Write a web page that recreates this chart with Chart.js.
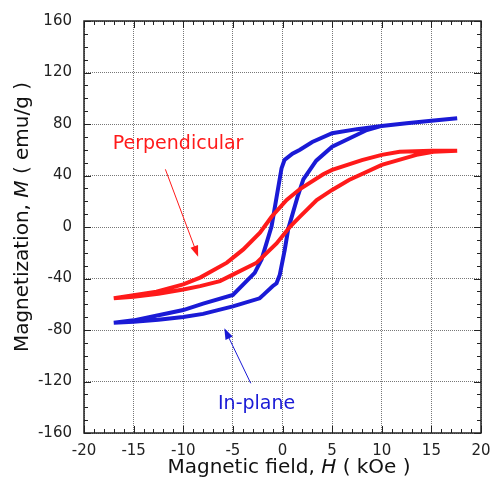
<!DOCTYPE html>
<html lang="en">
<head>
<meta charset="UTF-8">
<title>M-H loops</title>
<script src="https://cdn.jsdelivr.net/npm/chart.js"></script>
<style>
    body { margin: 0; background: #fff; }
    #wrap { width: 493px; height: 491px; }
</style>
</head>
<body>
<div id="wrap"><canvas id="myChart"></canvas></div>
<script>
// tick values
const fieldTicks = [-20, -15, -10, -5, 0, 5, 10, 15, 20];
const magTicks = [-160, -120, -80, -40, 0, 40, 80, 120, 160];

// in-plane loop (blue): down the upper branch, back up the lower one
const blueH = [17.6, 15, 12.5, 10, 7.5, 5, 3, 1.76, 1, 0.2, -0.1, -1.1, -2.1, -2.8, -5, -8, -10, -12.5, -15, -17,
               -15, -12.5, -10, -8, -5, -2.3, -1.9, -1, -0.6, -0.27, 0.23, 0.57, 1.5, 2.1, 3.4, 5, 8.5, 10, 12.5, 15, 17.6];
const blueM = [84.4, 82.5, 80.5, 78.5, 76, 72.8, 66, 60, 57, 52, 45.5, 0.6, -25, -35.6, -52.8, -59.5, -64.5, -68.5, -72.5, -74.3,
               -73.5, -72, -69.9, -67.5, -61.7, -55.4, -52.5, -46, -43.7, -37, -17.6, -1.8, 23, 37, 51.5, 62.4, 75.3, 78.5, 80.5, 82.5, 84.4];

// perpendicular loop (red)
const redH = [17.6, 15, 11.8, 10, 8, 5, 4.1, 1.76, 0.42, -1.1, -2.27, -3.95, -5.6, -8.3, -10, -12.7, -15, -17,
              -15, -12.5, -10, -8.3, -6.3, -4.95, -2.6, -0.6, 0.75, 1.76, 3.45, 5, 6.7, 10, 13.5, 15.2, 17.6];
const redM = [59.3, 59.2, 58.5, 56, 52, 44.3, 41, 29.5, 21, 8, -4.4, -17.4, -27.7, -39.3, -44.6, -50.2, -53, -55.4,
              -54.2, -51.8, -48.5, -45.9, -42, -36.8, -27.7, -12.8, 0.2, 8, 21, 28.8, 36.5, 48.2, 56, 58.5, 59.3];

function pts(h, m) { return h.map((v, i) => ({ x: v, y: m[i] })); }

// frame with inward ticks on all four sides
const framePlugin = {
    id: 'frame',
    afterDraw(chart) {
        const { ctx, chartArea: a, scales: { x, y } } = chart;
        ctx.save();
        ctx.strokeStyle = '#222';
        ctx.lineWidth = 1;
        ctx.beginPath();
        for (let v = -20; v <= 20; v += 1) {
            const px = Math.round(x.getPixelForValue(v)) + 0.5;
            const len = v % 5 === 0 ? 7 : 4;
            ctx.moveTo(px, a.bottom); ctx.lineTo(px, a.bottom - len);
            ctx.moveTo(px, a.top); ctx.lineTo(px, a.top + len);
        }
        for (let v = -160; v <= 160; v += 10) {
            const py = Math.round(y.getPixelForValue(v)) + 0.5;
            const len = v % 40 === 0 ? 7 : 4;
            ctx.moveTo(a.left, py); ctx.lineTo(a.left + len, py);
            ctx.moveTo(a.right, py); ctx.lineTo(a.right - len, py);
        }
        ctx.stroke();
        ctx.lineWidth = 1.5;
        ctx.strokeRect(a.left, a.top, a.right - a.left, a.bottom - a.top);

        // axis titles with italic symbol
        const drawMixed = (parts, cx, cy) => {
            let w = 0;
            parts.forEach(p => { ctx.font = p[1]; w += ctx.measureText(p[0]).width; });
            let sx = cx - w / 2;
            ctx.textBaseline = 'middle';
            ctx.textAlign = 'left';
            parts.forEach(p => { ctx.font = p[1]; ctx.fillText(p[0], sx, cy); sx += ctx.measureText(p[0]).width; });
        };
        const f = '20px "DejaVu Sans"', fi = 'italic 20px "DejaVu Sans"';
        ctx.fillStyle = '#111';
        drawMixed([['Magnetic field, ', f], ['H', fi], [' ( kOe )', f]], 289, 468);
        ctx.translate(23, 217);
        ctx.rotate(-Math.PI / 2);
        drawMixed([['Magnetization, ', f], ['M', fi], [' ( emu/g )', f]], 0, 0);
        ctx.restore();
    }
};

// labels and arrows
const notes = [
    { text: 'Perpendicular', color: '#ff1a1a', at: [-17.1, 60.6], from: [-11.8, 44.8], to: [-8.5, -23.1] },
    { text: 'In-plane', color: '#1a1ad6', at: [-6.5, -141.4], from: [-3.2, -121.4], to: [-5.86, -78.7] }
];

const notesPlugin = {
    id: 'notes',
    afterDatasetsDraw(chart) {
        const { ctx, scales: { x, y } } = chart;
        ctx.save();
        notes.forEach(n => {
            ctx.fillStyle = n.color;
            ctx.strokeStyle = n.color;
            ctx.font = '19px "DejaVu Sans"';
            ctx.textBaseline = 'alphabetic';
            ctx.fillText(n.text, x.getPixelForValue(n.at[0]), y.getPixelForValue(n.at[1]));
            const x0 = x.getPixelForValue(n.from[0]), y0 = y.getPixelForValue(n.from[1]);
            const x1 = x.getPixelForValue(n.to[0]), y1 = y.getPixelForValue(n.to[1]);
            const ang = Math.atan2(y1 - y0, x1 - x0);
            ctx.lineWidth = 1;
            ctx.beginPath();
            ctx.moveTo(x0, y0);
            ctx.lineTo(x1 - 8 * Math.cos(ang), y1 - 8 * Math.sin(ang));
            ctx.stroke();
            ctx.beginPath();
            ctx.moveTo(x1, y1);
            ctx.lineTo(x1 - 11 * Math.cos(ang) + 4 * Math.sin(ang), y1 - 11 * Math.sin(ang) - 4 * Math.cos(ang));
            ctx.lineTo(x1 - 11 * Math.cos(ang) - 4 * Math.sin(ang), y1 - 11 * Math.sin(ang) + 4 * Math.cos(ang));
            ctx.closePath();
            ctx.fill();
        });
        ctx.restore();
    }
};

const ctx = document.getElementById('myChart').getContext('2d');
const myChart = new Chart(ctx, {
    type: 'scatter',
    data: {
        datasets: [{
            label: 'Perpendicular',
            data: pts(redH, redM),
            showLine: true,
            borderColor: '#ff1a1a',
            borderWidth: 4,
            pointRadius: 0,
            tension: 0
        }, {
            label: 'In-plane',
            data: pts(blueH, blueM),
            showLine: true,
            borderColor: '#1a1ad6',
            borderWidth: 4,
            pointRadius: 0,
            tension: 0
        }]
    },
    options: {
        responsive: true,
        maintainAspectRatio: false,
        animation: false,
        layout: { padding: { top: 21, right: 0, left: 0, bottom: 0 } },
        plugins: { legend: { display: false }, tooltip: { enabled: false } },
        scales: {
            x: {
                type: 'linear',
                min: -20, max: 20,
                afterBuildTicks: s => { s.ticks = fieldTicks.map(v => ({ value: v })); },
                afterFit: s => { s.height = 58; s.paddingRight = 12; },
                grid: { color: '#777', lineWidth: 1, drawTicks: false },
                border: { display: false, dash: [1, 1] },
                ticks: { color: '#222', padding: 9, font: { family: 'DejaVu Sans', size: 15 } }
            },
            y: {
                type: 'linear',
                min: -160, max: 160,
                afterBuildTicks: s => { s.ticks = magTicks.map(v => ({ value: v })); },
                afterFit: s => { s.width = 84; },
                grid: { color: '#777', lineWidth: 1, drawTicks: false },
                border: { display: false, dash: [1, 1] },
                ticks: { color: '#222', padding: 12, font: { family: 'DejaVu Sans', size: 15 } }
            }
        }
    },
    plugins: [framePlugin, notesPlugin]
});
</script>
</body>
</html>
